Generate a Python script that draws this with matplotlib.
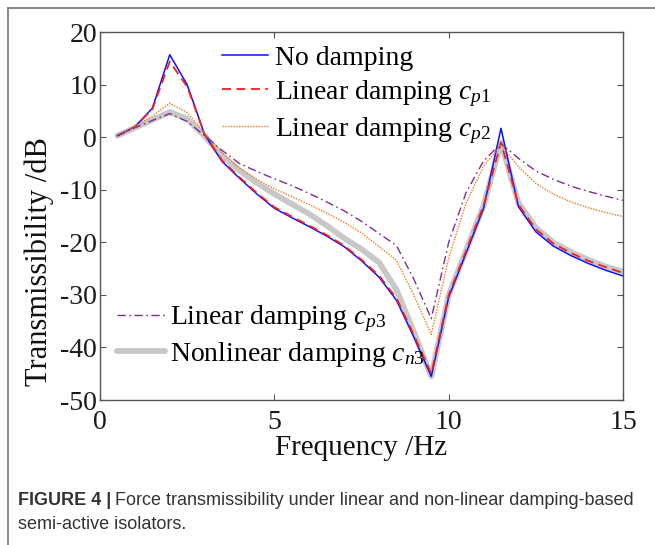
import numpy as np
import matplotlib.pyplot as plt
from matplotlib.lines import Line2D

plt.rcParams['font.family'] = 'Liberation Serif'
plt.rcParams['mathtext.fontset'] = 'custom'
plt.rcParams['mathtext.rm'] = 'Liberation Serif'
plt.rcParams['mathtext.it'] = 'Liberation Serif:italic'
plt.rcParams['axes.unicode_minus'] = False

# frequency grid (Hz)
freq = np.arange(0.5, 15.01, 0.5)

no_damping = [0.3, 2.0, 5.5, 15.7, 10.0, 0.5, -4.6, -7.8, -10.8, -13.5, -15.3, -17.0, -18.8, -20.8,
              -23.5, -26.6, -31.0, -38.0, -45.5, -30.4, -22.0, -13.5, 1.7, -13.2, -18.0, -20.7,
              -22.5, -24.0, -25.3, -26.4]
lin_cp1 = [0.3, 2.0, 5.3, 14.4, 9.6, 0.6, -4.4, -7.6, -10.6, -13.3, -15.1, -16.8, -18.6, -20.6,
           -23.3, -26.3, -30.6, -37.6, -45.0, -30.0, -21.6, -13.0, -1.0, -12.8, -17.5, -20.2,
           -22.0, -23.5, -24.7, -25.8]
lin_cp2 = [0.3, 2.0, 4.0, 6.5, 4.7, 0.8, -3.0, -5.9, -8.0, -9.8, -11.3, -12.8, -14.4, -16.2,
           -18.2, -20.8, -23.4, -30.0, -37.5, -23.0, -12.5, -5.5, -1.5, -5.6, -8.8, -10.8,
           -12.3, -13.4, -14.3, -15.1]
lin_cp3 = [0.3, 1.8, 3.2, 4.5, 3.0, 0.3, -2.5, -5.0, -6.5, -7.9, -9.2, -10.7, -12.3, -14.0,
           -16.0, -18.3, -20.6, -27.0, -34.5, -20.0, -10.5, -4.5, -1.2, -4.0, -6.4, -8.0,
           -9.3, -10.3, -11.2, -12.0]
nonlin_cn3 = [0.3, 1.8, 3.3, 4.8, 3.5, 0.2, -3.5, -6.3, -8.7, -10.8, -12.7, -14.6, -16.8, -19.2,
              -21.3, -23.8, -29.0, -37.0, -45.5, -30.0, -21.5, -13.0, -1.0, -12.5, -17.2, -20.0,
              -21.8, -23.3, -24.6, -25.6]

labels = ['No damping', r'Linear damping $c_{p1}$', r'Linear damping $c_{p2}$',
          r'Linear damping $c_{p3}$', r'Nonlinear damping $c_{n3}$']

fig = plt.figure(figsize=(6.55, 5.45), dpi=100)
ax = fig.add_axes([0.1527, 0.266, 0.7985, 0.675])

l5, = ax.plot(freq, nonlin_cn3, color='#c8c8c8', lw=4.2, solid_capstyle='round')
l1, = ax.plot(freq, no_damping, color='#1010ff', lw=1.1)
l2, = ax.plot(freq, lin_cp1, color='#f02020', lw=1.3, ls=(0, (5, 3)))
l3, = ax.plot(freq, lin_cp2, color='#f07a1a', lw=1.0, ls=(0, (1, 1)))
l4, = ax.plot(freq, lin_cp3, color='#7e2f8e', lw=1.0, ls=(0, (6, 2.5, 1.2, 2.5)))

ax.set_xlim(0, 15)
ax.set_ylim(-50, 20)
ax.set_xticks([0, 5, 10, 15])
ax.set_yticks(np.arange(-50, 21, 10))
ax.tick_params(direction='in', top=True, right=True, labelsize=20, length=4,
               color='#555555', labelcolor='#1a1a1a', pad=2)
ax.tick_params(axis='x', pad=7)
for s in ax.spines.values():
    s.set_color('#555555')
    s.set_linewidth(1.0)
ax.set_xlabel('Frequency /Hz', fontsize=21, color='#111111', labelpad=0)
ax.set_ylabel('Transmissibility /dB', fontsize=22, color='#111111')
ax.yaxis.set_label_coords(-0.088, 0.377)

leg1 = ax.legend([l1, l2, l3], labels[:3], loc='upper left', bbox_to_anchor=(0.233, 0.963),
                 frameon=False, fontsize=20, handlelength=1.65, handletextpad=0.25,
                 labelspacing=0.24, borderpad=0, borderaxespad=0)
ax.add_artist(leg1)
ax.legend([l4, l5], labels[3:], loc='lower left', bbox_to_anchor=(0.033, 0.085),
          frameon=False, fontsize=20, handlelength=1.73, handletextpad=0.18,
          labelspacing=0.2, borderpad=0, borderaxespad=0)

# figure frame (left and top)
fig.add_artist(Line2D([8 / 655, 8 / 655], [0, 1 - 8 / 545], color='#777777', lw=1.2))
fig.add_artist(Line2D([8 / 655, 1], [1 - 8 / 545, 1 - 8 / 545], color='#777777', lw=1.2))

# caption
cap_font = ['Liberation Sans', 'DejaVu Sans']
t = fig.text(18 / 655, 1 - 505 / 545, 'FIGURE 4 |', fontsize=13, weight='bold',
             family=cap_font, color='#333333', va='baseline')
fig.canvas.draw()
bb = t.get_window_extent()
fig.text(bb.x1 / fig.bbox.width + 4 / 655, 1 - 505 / 545,
         'Force transmissibility under linear and non-linear damping-based',
         fontsize=13, family=cap_font, color='#333333', va='baseline')
fig.text(18 / 655, 1 - 529 / 545, 'semi-active isolators.', fontsize=13,
         family=cap_font, color='#333333', va='baseline')

fig.savefig('out.png', dpi=100)
